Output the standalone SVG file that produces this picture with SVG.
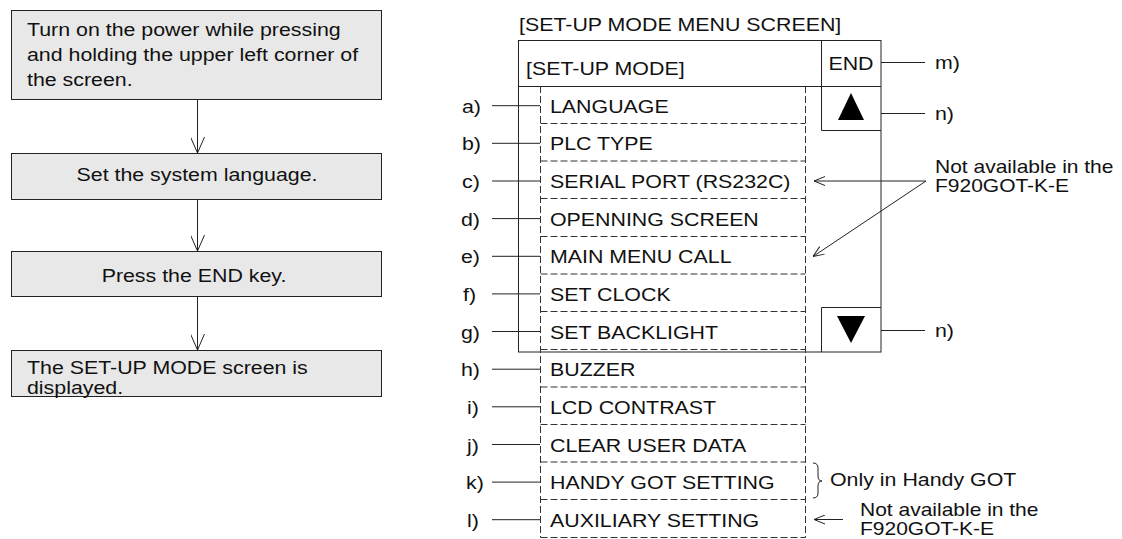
<svg xmlns="http://www.w3.org/2000/svg" width="1122" height="539" viewBox="0 0 1122 539">
<defs>
<style>
.t{font-family:"Liberation Sans",Arial,sans-serif;font-size:18.5px;fill:#111}
.n{font-size:17.5px}
.m{text-anchor:middle}
.box{fill:#e8e8e8;stroke:#222;stroke-width:1}
.ln{stroke:#222;stroke-width:1;fill:none}
.ds{stroke:#333;stroke-width:1;fill:none;stroke-dasharray:7 3}
</style>
<marker id="ab" viewBox="0 0 16 14" markerWidth="16" markerHeight="14" refX="16" refY="7" orient="auto" markerUnits="userSpaceOnUse"><path d="M0,0 L16,7 L0,14" fill="none" stroke="#222" stroke-width="1"/></marker>
<marker id="as" viewBox="0 0 11 10" markerWidth="11" markerHeight="10" refX="11" refY="5" orient="auto" markerUnits="userSpaceOnUse"><path d="M0,0.5 L11,5 L0,9.5" fill="none" stroke="#222" stroke-width="1"/></marker>
</defs>
<rect width="1122" height="539" fill="#fff"/>

<g id="step1"><rect class="box" x="11.5" y="10.5" width="370" height="89"/>
<text class="t" transform="translate(27,36) scale(1.155,1)">Turn on the power while pressing</text>
<text class="t" transform="translate(27,61) scale(1.155,1)">and holding the upper left corner of</text>
<text class="t" transform="translate(27,86) scale(1.155,1)">the screen.</text></g>
<g id="step2"><rect class="box" x="11.5" y="153.5" width="370" height="46"/>
<text class="t m" transform="translate(197,181) scale(1.155,1)">Set the system language.</text></g>
<g id="step3"><rect class="box" x="11.5" y="251.5" width="370" height="45"/>
<text class="t m" transform="translate(194,282) scale(1.155,1)">Press the END key.</text></g>
<g id="step4"><rect class="box" x="11.5" y="350.5" width="370" height="46"/>
<text class="t" transform="translate(27,374) scale(1.155,1)">The SET-UP MODE screen is</text>
<text class="t" transform="translate(27,394) scale(1.155,1)">displayed.</text></g>

<g id="connectors">
<line class="ln" x1="197.5" y1="100" x2="197.5" y2="153" marker-end="url(#ab)"/>
<line class="ln" x1="197.5" y1="200" x2="197.5" y2="251" marker-end="url(#ab)"/>
<line class="ln" x1="197.5" y1="297" x2="197.5" y2="350" marker-end="url(#ab)"/>
<line class="ln" x1="926" y1="181" x2="814" y2="181" marker-end="url(#as)"/>
<line class="ln" x1="926" y1="181" x2="813" y2="256.5" marker-end="url(#as)"/>
<line class="ln" x1="843" y1="519.5" x2="814" y2="519.5" marker-end="url(#as)"/>
</g>

<g id="screen">
<text class="t" transform="translate(519,31) scale(1.155,1)">[SET-UP MODE MENU SCREEN]</text>
<rect class="ln" x="518.5" y="40.5" width="362.5" height="311.5"/>
<line class="ln" x1="518.5" y1="86.5" x2="881" y2="86.5"/>
<line class="ln" x1="821.5" y1="40.5" x2="821.5" y2="86.5"/>
<text class="t" transform="translate(526,75) scale(1.155,1)">[SET-UP MODE]</text>
<text class="t m" transform="translate(851,70) scale(1.155,1)">END</text>
</g>
<g id="upkey">
<path class="ln" d="M821.5,86.5 V130.5 H881"/>
<polygon points="851,93 838,120 864,120" fill="#000"/>
</g>
<g id="downkey">
<path class="ln" d="M881,307.5 H821.5 V352"/>
<polygon points="837,316 865,316 851,343" fill="#000"/>
</g>

<g id="menu">
<line class="ds" x1="540.5" y1="86" x2="540.5" y2="537.5"/>
<line class="ds" x1="805.5" y1="86" x2="805.5" y2="537.5"/>
<line class="ds" x1="540.5" y1="123.5" x2="805.5" y2="123.5"/>
<line class="ds" x1="540.5" y1="161" x2="805.5" y2="161"/>
<line class="ds" x1="540.5" y1="198.5" x2="805.5" y2="198.5"/>
<line class="ds" x1="540.5" y1="236.5" x2="805.5" y2="236.5"/>
<line class="ds" x1="540.5" y1="274" x2="805.5" y2="274"/>
<line class="ds" x1="540.5" y1="311.5" x2="805.5" y2="311.5"/>
<line class="ds" x1="540.5" y1="349.5" x2="805.5" y2="349.5"/>
<line class="ds" x1="540.5" y1="387" x2="805.5" y2="387"/>
<line class="ds" x1="540.5" y1="424.5" x2="805.5" y2="424.5"/>
<line class="ds" x1="540.5" y1="462" x2="805.5" y2="462"/>
<line class="ds" x1="540.5" y1="499.5" x2="805.5" y2="499.5"/>
<line class="ds" x1="540.5" y1="537.5" x2="805.5" y2="537.5"/>
</g>

<g id="item-a"><text class="t" transform="translate(462,112.7) scale(1.155,1)">a)</text><line class="ln" x1="492" y1="105.7" x2="540" y2="105.7"/><text class="t" transform="translate(550,112.7) scale(1.155,1)">LANGUAGE</text></g>
<g id="item-b"><text class="t" transform="translate(462,150.3) scale(1.155,1)">b)</text><line class="ln" x1="492" y1="143.3" x2="540" y2="143.3"/><text class="t" transform="translate(550,150.3) scale(1.155,1)">PLC TYPE</text></g>
<g id="item-c"><text class="t" transform="translate(462,188) scale(1.155,1)">c)</text><line class="ln" x1="492" y1="181" x2="540" y2="181"/><text class="t" transform="translate(550,188) scale(1.155,1)">SERIAL PORT (RS232C)</text></g>
<g id="item-d"><text class="t" transform="translate(461,225.6) scale(1.155,1)">d)</text><line class="ln" x1="492" y1="218.6" x2="540" y2="218.6"/><text class="t" transform="translate(550,225.6) scale(1.155,1)">OPENNING SCREEN</text></g>
<g id="item-e"><text class="t" transform="translate(461,263.3) scale(1.155,1)">e)</text><line class="ln" x1="492" y1="256.3" x2="540" y2="256.3"/><text class="t" transform="translate(550,263.3) scale(1.155,1)">MAIN MENU CALL</text></g>
<g id="item-f"><text class="t" transform="translate(463,300.9) scale(1.155,1)">f)</text><line class="ln" x1="492" y1="293.9" x2="540" y2="293.9"/><text class="t" transform="translate(550,300.9) scale(1.155,1)">SET CLOCK</text></g>
<g id="item-g"><text class="t" transform="translate(461,338.5) scale(1.155,1)">g)</text><line class="ln" x1="492" y1="331.5" x2="540" y2="331.5"/><text class="t" transform="translate(550,338.5) scale(1.155,1)">SET BACKLIGHT</text></g>
<g id="item-h"><text class="t" transform="translate(461,376.2) scale(1.155,1)">h)</text><line class="ln" x1="492" y1="369.2" x2="540" y2="369.2"/><text class="t" transform="translate(550,376.2) scale(1.155,1)">BUZZER</text></g>
<g id="item-i"><text class="t" transform="translate(467,413.8) scale(1.155,1)">i)</text><line class="ln" x1="492" y1="406.8" x2="540" y2="406.8"/><text class="t" transform="translate(550,413.8) scale(1.155,1)">LCD CONTRAST</text></g>
<g id="item-j"><text class="t" transform="translate(467,451.5) scale(1.155,1)">j)</text><line class="ln" x1="492" y1="444.5" x2="540" y2="444.5"/><text class="t" transform="translate(550,451.5) scale(1.155,1)">CLEAR USER DATA</text></g>
<g id="item-k"><text class="t" transform="translate(466,489.1) scale(1.155,1)">k)</text><line class="ln" x1="492" y1="482.1" x2="540" y2="482.1"/><text class="t" transform="translate(550,489.1) scale(1.155,1)">HANDY GOT SETTING</text></g>
<g id="item-l"><text class="t" transform="translate(467,526.7) scale(1.155,1)">l)</text><line class="ln" x1="492" y1="519.7" x2="540" y2="519.7"/><text class="t" transform="translate(550,526.7) scale(1.155,1)">AUXILIARY SETTING</text></g>

<g id="label-m"><line class="ln" x1="881" y1="62.5" x2="925" y2="62.5"/><text class="t" transform="translate(935,69) scale(1.155,1)">m)</text></g>
<g id="label-n-up"><line class="ln" x1="881" y1="113.5" x2="925" y2="113.5"/><text class="t" transform="translate(935,120) scale(1.155,1)">n)</text></g>
<g id="label-n-down"><line class="ln" x1="881" y1="330.5" x2="925" y2="330.5"/><text class="t" transform="translate(935,337) scale(1.155,1)">n)</text></g>

<g id="note-top"><text class="t n" transform="translate(935,172.5) scale(1.2,1)">Not available in the</text><text class="t n" transform="translate(935,192) scale(1.2,1)">F920GOT-K-E</text></g>
<g id="note-handy"><path class="ln" d="M813,463 Q818,463 818,468 V476 Q818,481 822,481 Q818,481 818,486 V493 Q818,498 813,498"/><text class="t" transform="translate(830,486) scale(1.155,1)">Only in Handy GOT</text></g>
<g id="note-bottom"><text class="t n" transform="translate(860,515.5) scale(1.2,1)">Not available in the</text><text class="t n" transform="translate(860,535) scale(1.2,1)">F920GOT-K-E</text></g>
</svg>
